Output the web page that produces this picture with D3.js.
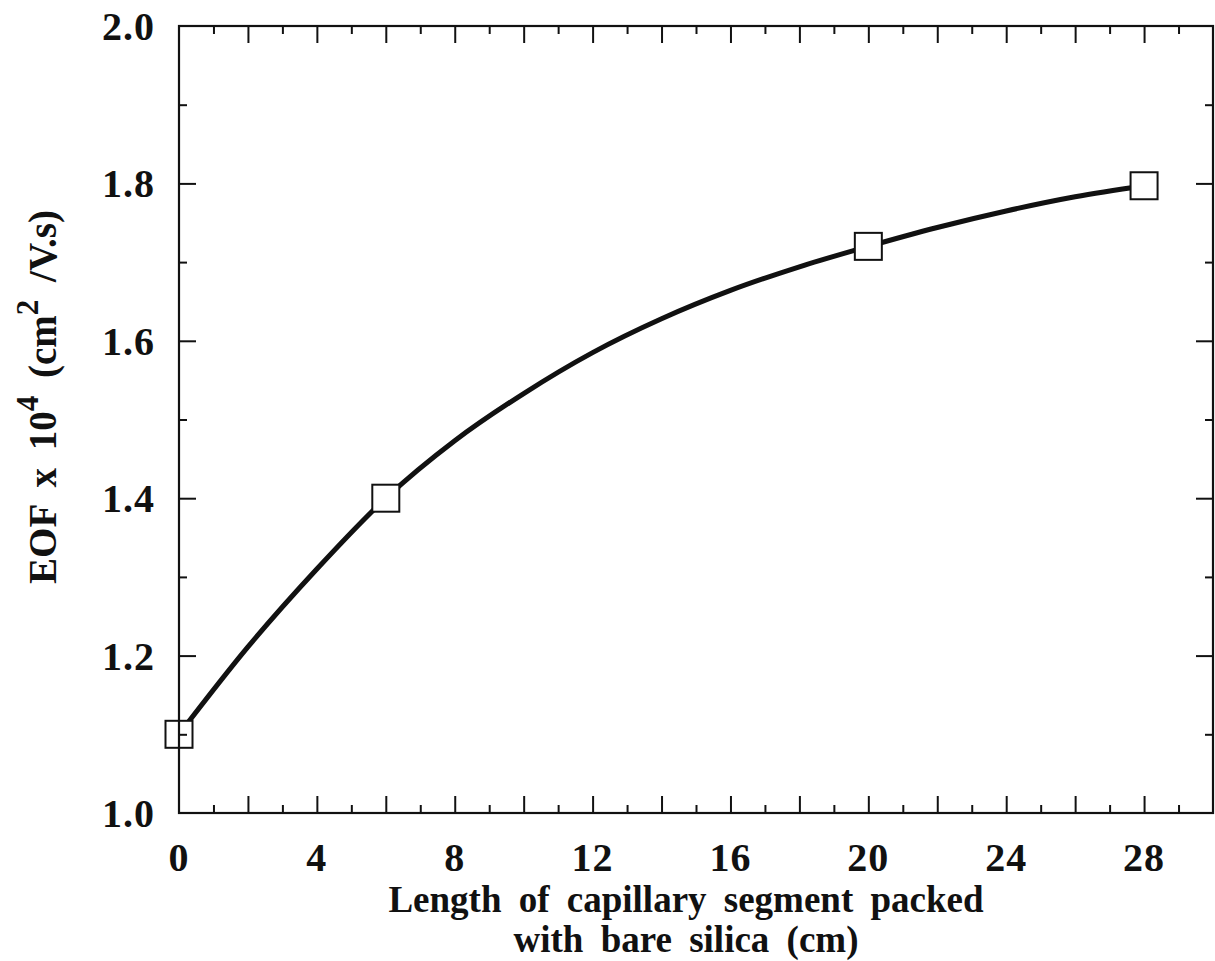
<!DOCTYPE html>
<html>
<head>
<meta charset="utf-8">
<script src="https://cdn.jsdelivr.net/npm/d3@7"></script>
<style>
  html, body { margin: 0; padding: 0; background: #fff; }
  svg { display: block; }
  text { font-family: "Liberation Serif", "Times New Roman", serif; font-weight: bold; fill: #111; }
</style>
</head>
<body>
<svg id="chart" width="1215" height="961"></svg>
<script>
// ---- data ----
const lengthCm = [0, 6, 20, 28];
const eofValues = [1.10, 1.40, 1.72, 1.797];
// smooth fitted curve
const curveX = [0, 2, 4, 6, 8, 10, 12, 14, 16, 18, 20, 22, 24, 26, 28];
const curveY = [1.10, 1.211, 1.31, 1.40, 1.473, 1.533, 1.585, 1.628, 1.664, 1.694, 1.72, 1.744, 1.765, 1.783, 1.797];
const xTickLabels = [0, 4, 8, 12, 16, 20, 24, 28];
const yTickLabels = [1.0, 1.2, 1.4, 1.6, 1.8, 2.0];
const xTitleLines = ["Length of capillary segment packed", "with bare silica (cm)"];

// ---- layout ----
const W = 1215, H = 961;
const m = { left: 179, right: 2, top: 26, bottom: 148 };
const svg = d3.select("#chart");
const x = d3.scaleLinear().domain([0, 30]).range([m.left, W - m.right]);
const y = d3.scaleLinear().domain([1.0, 2.0]).range([H - m.bottom, m.top]);
const x0 = x.range()[0], x1 = x.range()[1], y0 = y.range()[0], y1 = y.range()[1];

const data = lengthCm.map((d, i) => ({ x: d, y: eofValues[i] }));
const fit = curveX.map((d, i) => ({ x: d, y: curveY[i] }));

// curve
const line = d3.line().x(d => x(d.x)).y(d => y(d.y)).curve(d3.curveMonotoneX);
svg.append("path").datum(fit).attr("d", line)
  .attr("fill", "none").attr("stroke", "#111").attr("stroke-width", 5);

// markers
const S = 27;
svg.selectAll("rect.pt").data(data).enter().append("rect")
  .attr("class", "pt")
  .attr("x", d => x(d.x) - S / 2).attr("y", d => y(d.y) - S / 2)
  .attr("width", S).attr("height", S)
  .attr("fill", "#fff").attr("stroke", "#111").attr("stroke-width", 2);

// axes (ticks inward) on all 4 sides
const xMinor = d3.range(1, 30, 2), xMajor = d3.range(2, 30, 2);
const yMinor = d3.range(1.1, 2.0, 0.2), yMajor = [1.2, 1.4, 1.6, 1.8];
const BIG = 17, SMALL = 8;

function drawAxis(axisGen, transform, ticks, size) {
  const g = svg.append("g").attr("transform", transform)
    .call(axisGen.tickValues(ticks).tickSize(size).tickFormat(""));
  g.select(".domain").remove();
  g.selectAll(".tick line").attr("stroke", "#111").attr("stroke-width", 2);
}
drawAxis(d3.axisTop(x), `translate(0,${y0})`, xMajor, BIG);
drawAxis(d3.axisTop(x), `translate(0,${y0})`, xMinor, SMALL);
drawAxis(d3.axisBottom(x), `translate(0,${y1})`, xMajor, BIG);
drawAxis(d3.axisBottom(x), `translate(0,${y1})`, xMinor, SMALL);
drawAxis(d3.axisRight(y), `translate(${x0},0)`, yMajor, BIG);
drawAxis(d3.axisRight(y), `translate(${x0},0)`, yMinor, SMALL);
drawAxis(d3.axisLeft(y), `translate(${x1},0)`, yMajor, BIG);
drawAxis(d3.axisLeft(y), `translate(${x1},0)`, yMinor, SMALL);

// frame
svg.append("rect").attr("x", x0).attr("y", y1).attr("width", x1 - x0).attr("height", y0 - y1)
  .attr("fill", "none").attr("stroke", "#111").attr("stroke-width", 2.2);

// tick labels
svg.append("g").selectAll("text").data(xTickLabels).enter().append("text")
  .attr("x", d => x(d)).attr("y", y0 + 58)
  .attr("text-anchor", "middle").attr("font-size", 40).attr("letter-spacing", 1)
  .text(d => d);
svg.append("g").selectAll("text").data(yTickLabels).enter().append("text")
  .attr("x", x0 - 24).attr("y", d => y(d) + 14)
  .attr("text-anchor", "end").attr("font-size", 40).attr("letter-spacing", 1)
  .text(d => d3.format(".1f")(d));

// x title
svg.append("g").selectAll("text").data(xTitleLines).enter().append("text")
  .attr("x", 686).attr("y", (d, i) => 912 + i * 40)
  .attr("text-anchor", "middle").attr("font-size", 37).attr("word-spacing", 8)
  .text(d => d);

// y title
const yt = svg.append("text")
  .attr("transform", "translate(56,397) rotate(-90)")
  .attr("text-anchor", "middle").attr("font-size", 39).attr("word-spacing", 8);
yt.append("tspan").text("EOF x 10");
yt.append("tspan").attr("dy", -18).attr("font-size", 31).text("4");
yt.append("tspan").attr("dy", 18).text(" (cm");
yt.append("tspan").attr("dy", -18).attr("font-size", 31).text("2");
yt.append("tspan").attr("dy", 18).text(" /V.s)");
</script>
</body>
</html>
